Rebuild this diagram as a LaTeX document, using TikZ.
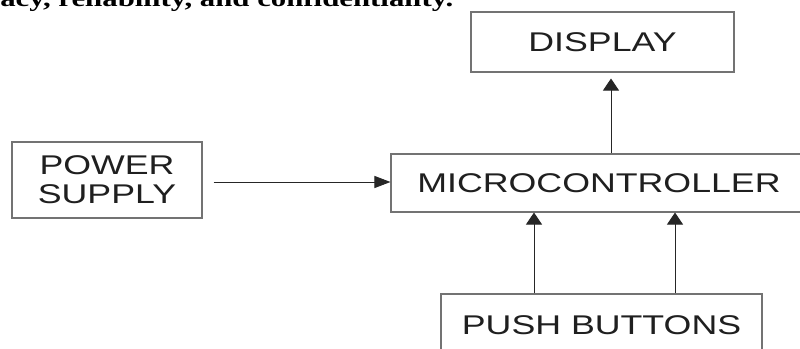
\documentclass[tikz,border=0pt]{standalone}
\usepackage{fontspec}
\usetikzlibrary{arrows.meta}
% wide sans for the block labels, wide bold serif for the running text
\newfontfamily\boxfont[FakeStretch=1.32]{Liberation Sans}
\newfontfamily\headfont[FakeStretch=1.32]{Liberation Serif}
\tikzset{
  blockbox/.style={draw=black!55, line width=0.8pt, inner sep=0pt,
    text=black!88, font=\boxfont\fontsize{20.3}{22}\selectfont, align=center},
  harrow/.style={draw=black!85, line width=0.7pt,
    -{Triangle[length=12pt,width=9pt]}},
  varrow/.style={draw=black!85, line width=0.7pt,
    -{Triangle[length=9pt,width=12pt]}},
}
\begin{document}
\begin{tikzpicture}[x=0.75pt, y=-0.75pt]
  \clip (0,0) rectangle (800,349);
  \fill[white] (0,0) rectangle (800,349);

  % tail of the sentence above the figure
  \node[anchor=base west, inner sep=0pt,
        font=\headfont\bfseries\fontsize{17.5}{20}\selectfont]
    (head) at (0,7) {acy, reliability, and confidentiality.};

  % blocks
  \node[blockbox, minimum width=142.5pt, minimum height=57pt]
    (pw) at (107,180) {POWER\\SUPPLY};
  \node[blockbox, minimum width=312pt, minimum height=43.5pt]
    (mc) at (599,183) {MICROCONTROLLER};
  \node[blockbox, minimum width=197.25pt, minimum height=45pt]
    (ds) at (602.5,42) {DISPLAY};
  \node[blockbox, minimum width=240.75pt, minimum height=46.5pt]
    (pb) at (601.5,325) {PUSH BUTTONS};

  % connectors
  \path (pw.east) ++(11,2) coordinate (pwout);
  \draw[harrow] (pwout) -- (pwout -| mc.west);

  \path (mc.north) ++(12,0) coordinate (mcout);
  \path (ds.south) ++(0,6) coordinate (dsin);
  \draw[varrow] (mcout) -- (mcout |- dsin);

  \path (pb.north) ++(-67.5,0) coordinate (pb1);
  \path (pb.north) ++(73.5,0) coordinate (pb2);
  \draw[varrow] (pb1) -- (pb1 |- mc.south);
  \draw[varrow] (pb2) -- (pb2 |- mc.south);
\end{tikzpicture}
\end{document}
